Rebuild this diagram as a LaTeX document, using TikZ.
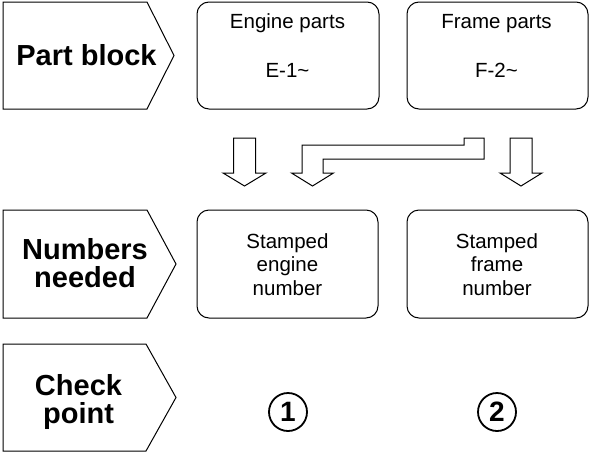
\documentclass[tikz,border=0pt]{standalone}
\usepackage{fontspec}
\setmainfont{Liberation Sans}
\begin{document}
\begin{tikzpicture}[x=1pt,y=-1pt,
  lab/.style={font=\fontsize{29}{28}\selectfont\bfseries, align=center, inner sep=0pt, anchor=base},
  txt/.style={font=\fontsize{20.5}{23.5}\selectfont, align=center, inner sep=0pt, anchor=base},
  pent/.style={draw=black, line width=1pt, line join=miter},
  rbox/.style={draw=black, line width=1pt, rounded corners=12pt, inner sep=0pt},
  harrow/.style={draw=black, line width=1pt, fill=white, line join=miter},
  cnum/.style={circle, draw=black, line width=1.8pt, minimum size=38pt, inner sep=0pt, font=\fontsize{28}{28}\selectfont\bfseries}]
\useasboundingbox (0,0) rectangle (592,453);
% pentagons
\draw[pent] (3,2) -- (147,2) -- (174,55.5) -- (147,109) -- (3,109) -- cycle;
\draw[pent] (3,210) -- (147,210) -- (176,264) -- (147,318) -- (3,318) -- cycle;
\draw[pent] (3,344) -- (146,344) -- (176,397.5) -- (146,451) -- (3,451) -- cycle;
\node[lab] (partblock) at (86.5,65) {Part block};
\node[lab] (numneeded) at (85,287) {Numbers\\needed};
\node[lab] (checkpoint) at (78.5,423) {Check\\point};
% top boxes
\node[rbox, minimum width=182pt, minimum height=107pt] (engine) at (288,55.5) {};
\node[rbox, minimum width=181pt, minimum height=107pt] (frame) at (497.5,55.5) {};
\node[txt] (enginet) at (287.5,28) {Engine parts};
\node[txt] (engineid) at (287.5,77) {E-1\char`~};
\node[txt] (framet) at (496.5,28) {Frame parts};
\node[txt] (frameid) at (496.5,77) {F-2\char`~};
% middle boxes
\node[rbox, minimum width=181pt, minimum height=108pt] (senginebox) at (287.5,264) {};
\node[rbox, minimum width=181pt, minimum height=108pt] (sframebox) at (497.5,264) {};
\node[txt] (sengine) at (287.5,295) {Stamped\\engine\\number};
\node[txt] (sframe) at (497,295) {Stamped\\frame\\number};
% hollow arrows
\draw[harrow] (244.5,186) -- (266,173) -- (255.5,173) -- (255.5,138) -- (233.5,138) -- (233.5,173) -- (223,173) -- cycle;
\draw[harrow] (521,186) -- (542,173) -- (532,173) -- (532,138) -- (510,138) -- (510,173) -- (500,173) -- cycle;
\draw[harrow] (312.5,186) -- (333.5,173) -- (323,173) -- (323,159) -- (484,159) -- (484,138) -- (464,138) -- (464,145) -- (302,145) -- (302,173) -- (291.5,173) -- cycle;
% check numbers
\node[cnum] (c1) at (288,412) {1};
\node[cnum] (c2) at (497,412) {2};
\end{tikzpicture}
\end{document}
